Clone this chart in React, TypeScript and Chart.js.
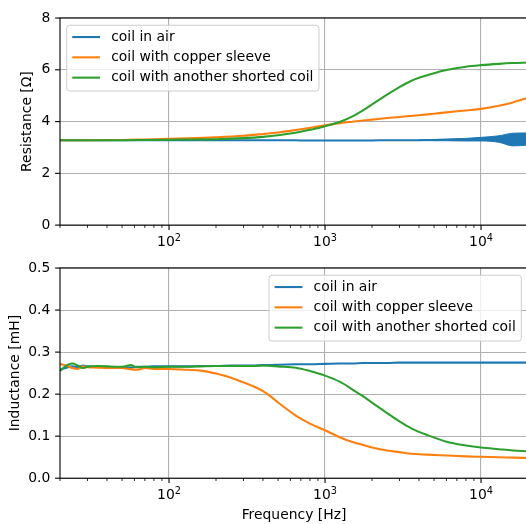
import React, { useEffect, useRef } from 'react';
import { Chart, registerables } from 'chart.js';

Chart.register(...registerables);

const FS = 13.9;
const FONT = '"DejaVu Sans", sans-serif';
const BLUE = '#1f77b4';
const ORANGE = '#ff7f0e';
const GREEN = '#2ca02c';

const seriesLabels = ['coil in air', 'coil with copper sleeve', 'coil with another shorted coil'];
const seriesColors = [BLUE, ORANGE, GREEN];

// Resistance panel
const freqR = [20, 30, 50, 70, 100, 150, 200, 300, 400, 500, 600, 700, 850, 1000, 1250, 1500, 1750, 2000, 2500, 3000, 3500, 4000, 5000, 6000, 8000, 10000, 13000, 16000, 20000];
const blueR = [3.28, 3.28, 3.28, 3.28, 3.28, 3.28, 3.28, 3.28, 3.28, 3.28, 3.28, 3.27, 3.27, 3.27, 3.27, 3.27, 3.27, 3.27, 3.28, 3.28, 3.28, 3.28, 3.29, 3.3, 3.31, 3.32, 3.33, 3.33, 3.32];
const orangeR = [3.28, 3.28, 3.29, 3.31, 3.33, 3.36, 3.39, 3.45, 3.52, 3.58, 3.64, 3.7, 3.785, 3.86, 3.94, 3.995, 4.04, 4.075, 4.135, 4.18, 4.215, 4.245, 4.305, 4.355, 4.43, 4.49, 4.61, 4.74, 4.92];
const greenR = [3.28, 3.28, 3.28, 3.29, 3.3, 3.31, 3.32, 3.36, 3.41, 3.47, 3.54, 3.61, 3.71, 3.82, 3.99, 4.2, 4.43, 4.66, 5.04, 5.33, 5.55, 5.69, 5.87, 5.99, 6.12, 6.18, 6.23, 6.26, 6.28];
// noise envelope of "coil in air" resistance at high frequency
const freqBand = [4000, 5000, 6000, 8000, 10000, 13000, 16000, 20000];
const blueHiR = [3.29, 3.3, 3.32, 3.35, 3.39, 3.45, 3.55, 3.56];
const blueLoR = [3.27, 3.26, 3.26, 3.25, 3.25, 3.2, 3.06, 3.09];

// Inductance panel
const freqL = [20, 22, 24, 26, 28, 30, 35, 40, 50, 57, 62, 70, 80, 100, 130, 160, 200, 250, 300, 350, 400, 450, 500, 650, 800, 1000, 1250, 1500, 1750, 2000, 2500, 3000, 3600, 4500, 6000, 8000, 10000, 13000, 16000, 20000];
const blueL = [0.258, 0.263, 0.266, 0.264, 0.268, 0.266, 0.265, 0.265, 0.264, 0.263, 0.265, 0.265, 0.266, 0.266, 0.266, 0.267, 0.267, 0.268, 0.268, 0.268, 0.269, 0.269, 0.27, 0.271, 0.271, 0.272, 0.273, 0.273, 0.274, 0.274, 0.274, 0.275, 0.275, 0.275, 0.275, 0.275, 0.275, 0.275, 0.275, 0.275];
const orangeL = [0.272, 0.268, 0.262, 0.26, 0.266, 0.264, 0.263, 0.262, 0.262, 0.259, 0.258, 0.262, 0.26, 0.26, 0.258, 0.256, 0.249, 0.239, 0.228, 0.218, 0.207, 0.194, 0.18, 0.149, 0.13, 0.114, 0.097, 0.086, 0.079, 0.073, 0.066, 0.062, 0.058, 0.056, 0.054, 0.052, 0.051, 0.05, 0.049, 0.048];
const greenL = [0.255, 0.268, 0.273, 0.268, 0.262, 0.265, 0.267, 0.266, 0.265, 0.269, 0.264, 0.265, 0.264, 0.265, 0.265, 0.266, 0.267, 0.267, 0.267, 0.267, 0.268, 0.267, 0.266, 0.263, 0.255, 0.244, 0.229, 0.211, 0.195, 0.18, 0.155, 0.135, 0.118, 0.103, 0.087, 0.078, 0.073, 0.069, 0.066, 0.064];

// Axis ticks
const xMin = 20;
const xMax = 20000;
const xMajor = [100, 1000, 10000];
const xMajorBase = ['10', '10', '10'];
const xMajorExp = ['2', '3', '4'];
const xMinor = [20, 30, 40, 50, 60, 70, 80, 90, 200, 300, 400, 500, 600, 700, 800, 900, 2000, 3000, 4000, 5000, 6000, 7000, 8000, 9000, 20000];
const yTicksR = [0, 2, 4, 6, 8];
const yLabelsR = ['0', '2', '4', '6', '8'];
const yTicksL = [0, 0.1, 0.2, 0.3, 0.4, 0.5];
const yLabelsL = ['0.0', '0.1', '0.2', '0.3', '0.4', '0.5'];

const pts = (xs: number[], ys: number[]) => xs.map((x, i) => ({ x, y: ys[i] }));

const mplPlugin = {
  id: 'mpl',
  afterDatasetsDraw(chart: any, _args: any, opts: any) {
    const { ctx, chartArea: a, scales } = chart;
    const xs = scales.x;
    const ys = scales.y;
    ctx.save();
    // spines
    ctx.strokeStyle = '#000';
    ctx.lineWidth = 1.1;
    ctx.strokeRect(a.left, a.top, a.right - a.left, a.bottom - a.top);
    // x ticks
    ctx.lineWidth = 1.1;
    xMajor.forEach((v) => {
      const px = xs.getPixelForValue(v);
      ctx.beginPath();
      ctx.moveTo(px, a.bottom);
      ctx.lineTo(px, a.bottom + 4.9);
      ctx.stroke();
    });
    ctx.lineWidth = 0.84;
    xMinor.forEach((v) => {
      const px = xs.getPixelForValue(v);
      ctx.beginPath();
      ctx.moveTo(px, a.bottom);
      ctx.lineTo(px, a.bottom + 2.8);
      ctx.stroke();
    });
    // y ticks
    ctx.lineWidth = 1.1;
    (opts.yTicks as number[]).forEach((v) => {
      const py = ys.getPixelForValue(v);
      ctx.beginPath();
      ctx.moveTo(a.left, py);
      ctx.lineTo(a.left - 4.9, py);
      ctx.stroke();
    });
    // x tick labels with superscript
    ctx.fillStyle = '#000';
    ctx.textBaseline = 'alphabetic';
    ctx.textAlign = 'left';
    xMajor.forEach((v, i) => {
      const px = xs.getPixelForValue(v);
      ctx.font = `${FS}px ${FONT}`;
      const wb = ctx.measureText(xMajorBase[i]).width;
      ctx.font = `${FS * 0.7}px ${FONT}`;
      const we = ctx.measureText(xMajorExp[i]).width;
      const sx = px - (wb + we) / 2;
      const by = a.bottom + 21.2;
      ctx.font = `${FS}px ${FONT}`;
      ctx.fillText(xMajorBase[i], sx, by);
      ctx.font = `${FS * 0.7}px ${FONT}`;
      ctx.fillText(xMajorExp[i], sx + wb, by - 5.2);
    });
    // legend
    ctx.font = `${FS}px ${FONT}`;
    const tw = Math.max(...seriesLabels.map((s) => ctx.measureText(s).width));
    const pad = 0.4 * FS;
    const hl = 2 * FS;
    const htp = 0.8 * FS;
    const w = pad + hl + htp + tw + pad;
    const h = 65.8;
    const bx = opts.legend === 'left' ? a.left + 6.7 : a.right - 6.7 - w;
    const by = a.top + 7.2;
    ctx.beginPath();
    if (ctx.roundRect) ctx.roundRect(bx, by, w, h, 3);
    else ctx.rect(bx, by, w, h);
    ctx.fillStyle = 'rgba(255,255,255,0.8)';
    ctx.fill();
    ctx.strokeStyle = '#cccccc';
    ctx.lineWidth = 1;
    ctx.stroke();
    ctx.textBaseline = 'middle';
    seriesLabels.forEach((s, i) => {
      const cy = by + 11.8 + i * 20.3;
      ctx.strokeStyle = seriesColors[i];
      ctx.lineWidth = 2.08;
      ctx.beginPath();
      ctx.moveTo(bx + pad, cy);
      ctx.lineTo(bx + pad + hl, cy);
      ctx.stroke();
      ctx.fillStyle = '#000';
      ctx.fillText(s, bx + pad + hl + htp, cy);
    });
    ctx.restore();
  },
};

function lineDs(label: string, color: string, data: any[], order: number, extra: any = {}) {
  return {
    label,
    data,
    borderColor: color,
    backgroundColor: color,
    borderWidth: 2.08,
    pointRadius: 0,
    cubicInterpolationMode: 'monotone',
    fill: false,
    order,
    ...extra,
  };
}

function makeConfig(p: any): any {
  return {
    type: 'line',
    data: { datasets: p.datasets },
    plugins: [mplPlugin],
    options: {
      responsive: false,
      animation: false,
      devicePixelRatio: 1,
      events: [],
      layout: { padding: { top: p.padTop, right: 2, left: 0, bottom: 0 } },
      plugins: {
        legend: { display: false },
        tooltip: { enabled: false },
        mpl: { legend: p.legend, yTicks: p.yTicks },
      },
      scales: {
        x: {
          type: 'logarithmic',
          min: xMin,
          max: xMax,
          afterBuildTicks: (s: any) => {
            s.ticks = xMajor.map((v) => ({ value: v }));
          },
          afterFit: (s: any) => {
            s.height = p.xHeight;
          },
          ticks: { display: false },
          grid: { color: '#b0b0b0', lineWidth: 1.1, drawTicks: false },
          border: { display: false },
          title: p.xTitle
            ? {
                display: true,
                text: p.xTitle,
                color: '#000',
                font: { family: FONT, size: FS },
                padding: { top: 0, bottom: 0 },
              }
            : { display: false },
        },
        y: {
          type: 'linear',
          min: p.yTicks[0],
          max: p.yTicks[p.yTicks.length - 1],
          afterBuildTicks: (s: any) => {
            s.ticks = p.yTicks.map((v: number) => ({ value: v }));
          },
          afterFit: (s: any) => {
            s.width = 60;
          },
          ticks: {
            color: '#000',
            font: { family: FONT, size: FS },
            padding: 9.7,
            autoSkip: false,
            callback: (_v: any, i: number) => p.yLabels[i],
          },
          grid: { color: '#b0b0b0', lineWidth: 1.1, drawTicks: false },
          border: { display: false },
          title: {
            display: true,
            text: p.yTitle,
            color: '#000',
            font: { family: FONT, size: FS },
            padding: { top: p.yTitlePad, bottom: 0 },
          },
        },
      },
    },
  };
}

export default function App() {
  const r1 = useRef<HTMLCanvasElement>(null);
  const r2 = useRef<HTMLCanvasElement>(null);

  useEffect(() => {
    const c1 = new Chart(
      r1.current as HTMLCanvasElement,
      makeConfig({
        datasets: [
          lineDs(seriesLabels[0], BLUE, pts(freqR, blueR), 2),
          lineDs(seriesLabels[1], ORANGE, pts(freqR, orangeR), 1),
          lineDs(seriesLabels[2], GREEN, pts(freqR, greenR), 0),
          lineDs('', BLUE, pts(freqBand, blueHiR), 3, { borderWidth: 1, fill: '+1' }),
          lineDs('', BLUE, pts(freqBand, blueLoR), 3, { borderWidth: 1 }),
        ],
        padTop: 13.7,
        xHeight: 24.9,
        yTicks: yTicksR,
        yLabels: yLabelsR,
        yTitle: 'Resistance [Ω]',
        yTitlePad: 19.2,
        legend: 'left',
        xTitle: null,
      })
    );
    const c2 = new Chart(
      r2.current as HTMLCanvasElement,
      makeConfig({
        datasets: [
          lineDs(seriesLabels[0], BLUE, pts(freqL, blueL), 2),
          lineDs(seriesLabels[1], ORANGE, pts(freqL, orangeL), 1),
          lineDs(seriesLabels[2], GREEN, pts(freqL, greenL), 0),
        ],
        padTop: 16.5,
        xHeight: 45.8,
        yTicks: yTicksL,
        yLabels: yLabelsL,
        yTitle: 'Inductance [mH]',
        yTitlePad: 6.7,
        legend: 'right',
        xTitle: 'Frequency [Hz]',
      })
    );
    return () => {
      c1.destroy();
      c2.destroy();
    };
  }, []);

  return (
    <div
      style={{
        position: 'fixed',
        left: 0,
        top: 0,
        width: 526,
        height: 524,
        overflow: 'hidden',
        background: '#fff',
      }}
    >
      <canvas ref={r1} width={530} height={250} style={{ position: 'absolute', left: 0, top: 0 }} />
      <canvas ref={r2} width={530} height={274} style={{ position: 'absolute', left: 0, top: 250 }} />
    </div>
  );
}
